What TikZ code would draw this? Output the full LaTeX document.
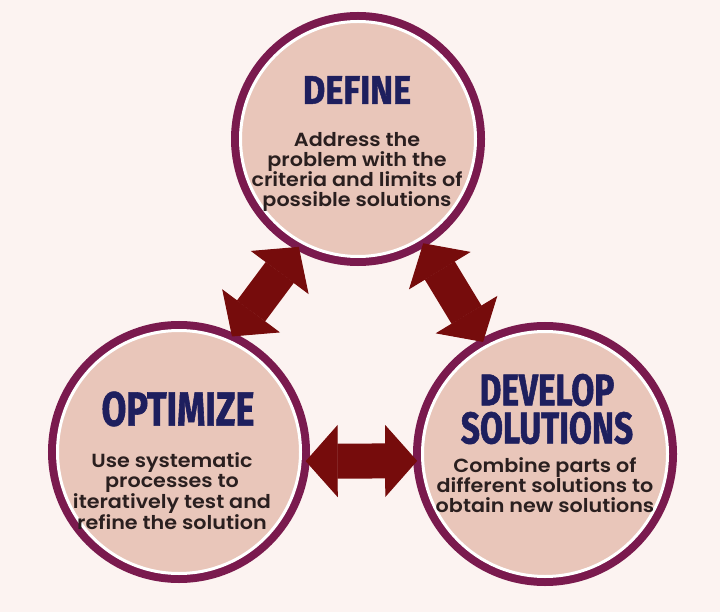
\documentclass[tikz,border=0pt]{standalone}
\usepackage{fontspec}
\setmainfont{Poppins}[UprightFont=* SemiBold, FakeStretch=1.09]
\newfontfamily\titlefont{Fira Sans}[FakeStretch=0.75, BoldFeatures={FakeBold=1.2}]
\newfontfamily\titlewide{Fira Sans}[FakeStretch=0.86, BoldFeatures={FakeBold=1.2}]
\usetikzlibrary{arrows.meta}

\definecolor{paper}{HTML}{FCF3F1}
\definecolor{stagefill}{HTML}{E9C6BA}
\definecolor{ringcol}{HTML}{7A1A4E}
\definecolor{linkcol}{HTML}{760C0C}
\definecolor{titlecol}{HTML}{1E1F5E}
\definecolor{bodycol}{HTML}{2A1F1F}

\tikzset{
  stage/.style={circle, fill=stagefill, draw=white, line width=3pt, inner sep=0pt,
    outer sep=9.5pt, preaction={draw=ringcol, line width=19pt}},
  headline/.style={font=\titlefont\bfseries\fontsize{44.5}{38}\selectfont, text=titlecol, align=center},
  blurb/.style={font=\fontsize{19}{19.7}\selectfont, text=bodycol, align=center},
  link/.style={draw=linkcol, line width=35pt,
    {Triangle[width=72pt,length=32pt,line width=1pt]}-{Triangle[width=72pt,length=32pt,line width=1pt]},
    shorten <=-4pt, shorten >=-4pt}
}

\begin{document}
\begin{tikzpicture}[x=1pt, y=-1pt]
	\fill[paper] (0,0) rectangle (720,612);
	\useasboundingbox (0,0) rectangle (720,612);

	\node[stage, minimum size=235pt] (define) at (358, 139) {};
	\node[stage, minimum size=243pt] (optimize) at (179, 452) {};
	\node[stage, minimum size=245pt] (develop) at (545, 454) {};

	\node[headline, font=\titlewide\bfseries\fontsize{40}{40}\selectfont] (defineT) at (357, 90) {DEFINE};
	\node[blurb] (defineB) at (357, 172) {Address the\\problem with the\\criteria and limits of\\possible solutions};

	\node[headline, font=\titlefont\bfseries\fontsize{48}{48}\selectfont] (optimizeT) at (178, 409) {OPTIMIZE};
	\node[blurb] (optimizeB) at (172, 491) {Use systematic\\processes to\\iteratively test and\\refine the solution};

	\node[headline] (developT) at (547, 409) {DEVELOP\\SOLUTIONS};
	\node[blurb] (developB) at (545, 485) {Combine parts of\\different solutions to\\obtain new solutions};

	\draw[link] (define.241) -- (optimize.65);
	\draw[link] (define.302) -- (develop.119);
	\draw[link] (optimize.-4) -- (develop.183);

\end{tikzpicture}
\end{document}
